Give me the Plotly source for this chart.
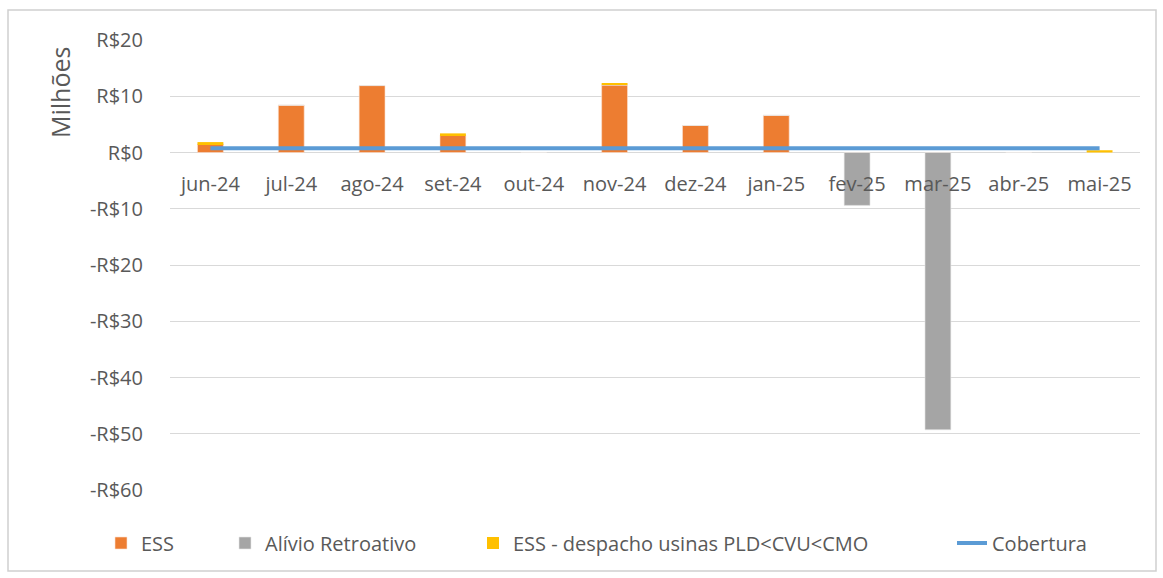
import plotly.graph_objects as go

months = ["jun-24", "jul-24", "ago-24", "set-24", "out-24", "nov-24",
          "dez-24", "jan-25", "fev-25", "mar-25", "abr-25", "mai-25"]
ess = [1.5, 8.4, 11.9, 3.1, 0, 12.0, 4.8, 6.6, 0, 0, 0, 0]
alivio = [0, 0, 0, 0, 0, 0, 0, 0, -9.4, -49.3, 0, 0]
ess_pld = [0.35, 0, 0, 0.3, 0, 0.25, 0, 0, 0, 0, 0, 0.4]
cobertura = [0.75] * 12
y_ticks = [20, 10, 0, -10, -20, -30, -40, -50, -60]
y_tick_labels = ["R$20", "R$10", "R$0", "-R$10", "-R$20", "-R$30", "-R$40", "-R$50", "-R$60"]

FONT = "'Open Sans', sans-serif"
GREY = "#595959"

W, H = 1163, 578
L, R, T, B = 170, 23, 40, 88
pw, ph = W - L - R, H - T - B

fig = go.Figure()
fig.add_trace(go.Bar(x=months, y=ess, name="ESS", legend="legend",
                     marker=dict(color="#ED7D31", line=dict(color="#FBE3D3", width=0.6))))
fig.add_trace(go.Bar(x=months, y=alivio, name="Alívio Retroativo", legend="legend2",
                     marker=dict(color="#A5A5A5", line=dict(color="#E8E8E8", width=0.6))))
fig.add_trace(go.Bar(x=months, y=ess_pld, name="ESS - despacho usinas PLD<CVU<CMO", legend="legend3",
                     marker=dict(color="#FFC000", line=dict(width=0))))
fig.add_trace(go.Scatter(x=months, y=cobertura, name="Cobertura", mode="lines", legend="legend4",
                         line=dict(color="#5B9BD5", width=4)))

leg_y = -(543 - (T + ph)) / ph


def leg(xpx):
    return dict(orientation="h", x=(xpx - L) / pw, xanchor="left", y=leg_y, yanchor="middle",
                font=dict(size=20, color=GREY, family=FONT), bgcolor="rgba(0,0,0,0)")


fig.update_layout(
    width=W, height=H,
    margin=dict(l=L, r=R, t=T, b=B, autoexpand=False),
    barmode="relative",
    bargap=0.68,
    plot_bgcolor="white", paper_bgcolor="white",
    font=dict(family=FONT, size=20, color=GREY),
    showlegend=True,
    legend=leg(101), legend2=leg(225), legend3=leg(473), legend4=leg(952),
    xaxis=dict(anchor="free", position=60 / 80, showline=False, ticks="", showgrid=False,
               tickfont=dict(size=20, color=GREY), range=[-0.5, 11.5], ticklabelstandoff=17,
               automargin=False),
    yaxis=dict(range=[-60, 20], tickvals=y_ticks, ticktext=y_tick_labels, showgrid=True,
               gridcolor="#D9D9D9", gridwidth=1, zeroline=True, zerolinecolor="#D9D9D9", zerolinewidth=1,
               showline=False, ticks="", tickfont=dict(size=20, color=GREY), ticklabelstandoff=26,
               automargin=False),
    shapes=[dict(type="rect", xref="paper", yref="paper",
                 x0=(8 - L) / pw, x1=(1156 - L) / pw, y0=(H - 571 - B) / ph, y1=(H - 10 - B) / ph,
                 line=dict(color="#D0D0D0", width=1.5), fillcolor="rgba(0,0,0,0)", layer="below")],
    annotations=[dict(text="Milhões", textangle=-90, xref="paper", yref="paper",
                      x=(60 - L) / pw, y=(H - 93 - B) / ph, showarrow=False,
                      font=dict(size=25, color=GREY), xanchor="center", yanchor="middle")],
)

fig.write_html("out.html", post_script="document.body.style.margin='0';",
               config={"displayModeBar": False})
